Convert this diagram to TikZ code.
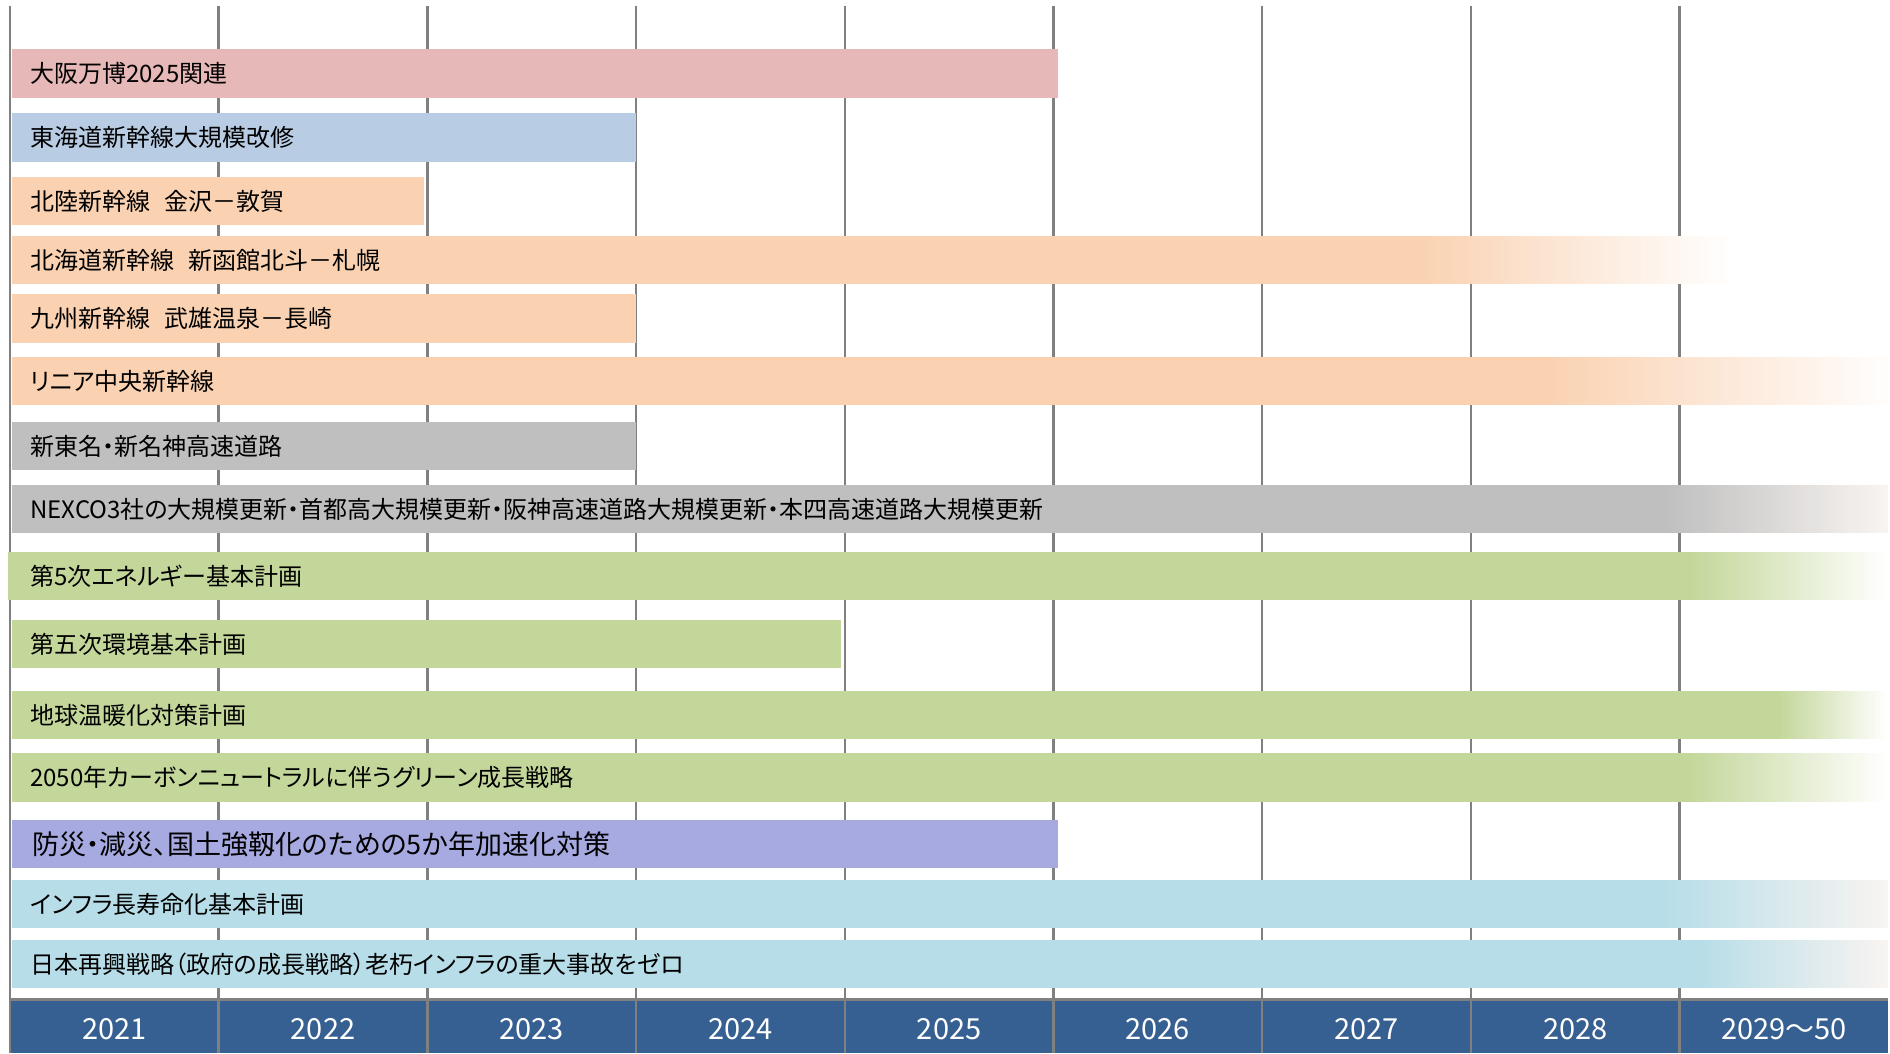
\documentclass[tikz,border=0pt]{standalone}
\usepackage{fontspec}
\setmainfont{Noto Sans CJK JP}[RawFeature=+palt]
\definecolor{cOsaka}{HTML}{E6B8B7}
\definecolor{cTokai}{HTML}{B8CCE4}
\definecolor{cOrange}{HTML}{FAD2B2}
\definecolor{cGray}{HTML}{BFBFBF}
\definecolor{cGreen}{HTML}{C4D79B}
\definecolor{cPurple}{HTML}{A6AAE0}
\definecolor{cBlue}{HTML}{B7DDE8}
\definecolor{cBand}{HTML}{376092}
\definecolor{cGrid}{HTML}{808080}
\definecolor{cWarmW}{HTML}{F8F4F1}
\newcommand\plainbar[6]{% name, x start, y top, x end, colour, text
  \fill[#5] (#2,#3) rectangle (#4,#3+48.5);
  \node[lbl] (#1) at (30,#3+24.5) {#6};}
\newcommand\fadebar[8]{% name, x start, y top, fade start, fade end, colour, end colour, text
  \fill[#6] (#2,#3) rectangle (#4,#3+48.5);
  \pgfmathsetmacro\stepw{(#5-#4)/60}
  \foreach \j in {0,...,59}{
    \pgfmathsetmacro\pc{100-(\j+0.5)*100/60}
    \pgfmathsetmacro\xa{#4+\stepw*\j-0.4}
    \pgfmathsetmacro\xb{#4+\stepw*(\j+1)}
    \fill[color={#6!\pc!#7}] (\xa,#3) rectangle (\xb,#3+48.5);
  }
  \node[lbl] (#1) at (30,#3+24.5) {#8};}
\begin{document}
\begin{tikzpicture}[x=1pt,y=-1pt,
  lbl/.style={anchor=west, inner sep=0pt, text=black,
    font=\fontsize{24}{28}\selectfont, text height=21pt, text depth=3pt},
  yr/.style={inner sep=0pt, text=white, font=\fontsize{29}{32}\selectfont},
  grid/.style={draw=cGrid, line width=2.5pt}]
\useasboundingbox (0,0) rectangle (1890,1053);
% grid lines
\foreach \i in {0,...,8}{
  \coordinate (gt\i) at (10+208.7*\i,6);
  \coordinate (gb\i) at (10+208.7*\i,1053);
  \draw[grid] (gt\i) -- (gb\i);
}
% bars
\plainbar{osaka}{12}{49}{1058}{cOsaka}{大阪万博2025関連}
\plainbar{tokai}{12}{113}{636}{cTokai}{東海道新幹線大規模改修}
\plainbar{hokuriku}{12}{176.5}{424}{cOrange}{北陸新幹線\hspace{0.6em}金沢－敦賀}
\fadebar{hokkaido}{12}{235.5}{1420}{1736}{cOrange}{white}{北海道新幹線\hspace{0.6em}新函館北斗－札幌}
\plainbar{kyushu}{12}{294}{636}{cOrange}{九州新幹線\hspace{0.6em}武雄温泉－長崎}
\fadebar{linear}{12}{356.5}{1550}{1888}{cOrange}{white!96!cOrange}{リニア中央新幹線}
\plainbar{tomei}{12}{421.5}{636}{cGray}{新東名・新名神高速道路}
\fadebar{nexco}{12}{484.5}{1665}{1888}{cGray}{cWarmW}{NEXCO3社の大規模更新・首都高大規模更新・阪神高速道路大規模更新・本四高速道路大規模更新}
\fadebar{energy}{8}{551.5}{1693}{1888}{cGreen}{white}{第5次エネルギー基本計画}
\plainbar{env}{12}{619.5}{841}{cGreen}{第五次環境基本計画}
\fadebar{warm}{12}{690.5}{1780}{1888}{cGreen}{white}{地球温暖化対策計画}
\fadebar{green}{12}{753}{1690}{1888}{cGreen}{white}{2050年カーボンニュートラルに伴うグリーン成長戦略}
\fill[cPurple] (12,819.5) rectangle (1058,868);
\node[lbl, font=\fontsize{27}{30}\selectfont, text height=23pt, text depth=3pt] (bosai) at (32,844) {防災・減災、国土強靱化のための5か年加速化対策};
\fadebar{infra}{12}{879.5}{1665}{1888}{cBlue}{cWarmW}{インフラ長寿命化基本計画}
\fadebar{revival}{12}{939.5}{1700}{1888}{cBlue}{cWarmW}{日本再興戦略（政府の成長戦略）老朽インフラの重大事故をゼロ}
% year band
\fill[cBand] (10,1000) rectangle (1888,1053);
\coordinate (bl) at (9,999.5);
\coordinate (br) at (1888,999.5);
\draw[grid] (bl) -- (br);
\foreach \i in {0,...,8}{
  \draw[grid] (10+208.7*\i,999.5) -- (gb\i);
}
\foreach \y [count=\k from 0] in {2021,2022,2023,2024,2025,2026,2027,2028,2029～50}{
  \node[yr] (y\k) at (10+208.7*\k+104.35,1029) {\y};
}
\end{tikzpicture}
\end{document}
